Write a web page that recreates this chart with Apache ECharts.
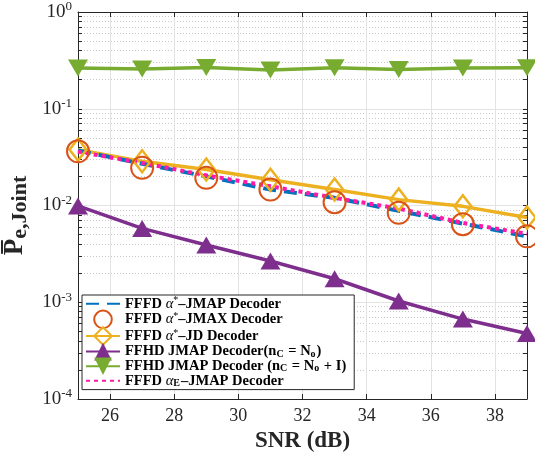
<!DOCTYPE html>
<html>
<head>
<meta charset="utf-8">
<script src="https://cdn.jsdelivr.net/npm/echarts@6/dist/echarts.min.js"></script>
<style>
  html, body { margin: 0; padding: 0; background: #fff; }
  #chart { width: 535px; height: 452px; }
</style>
</head>
<body>
<div id="chart"></div>
<script>
// SNR points (dB)
var snr = [25, 27, 29, 31, 33, 35, 37, 39];
var xTicks = [26, 28, 30, 32, 34, 36, 38];
var yMajor = [1e-4, 1e-3, 1e-2, 1e-1, 1];

// error probabilities
var fffdJmap   = [0.037, 0.027, 0.0200, 0.0146, 0.0120, 0.0088, 0.0065, 0.0048];
var fffdJmax   = [0.0363, 0.0245, 0.0193, 0.0146, 0.0108, 0.0084, 0.0064, 0.0048];
var fffdJd     = [0.0378, 0.0286, 0.0235, 0.0185, 0.0146, 0.0115, 0.0098, 0.0075];
var ffhdNo     = [0.0099, 0.0058, 0.0039, 0.00267, 0.00175, 0.00103, 0.00067, 0.000475];
var ffhdNoI    = [0.263, 0.257, 0.267, 0.252, 0.265, 0.255, 0.263, 0.265];
var fffdAlphaE = [0.036, 0.0275, 0.0205, 0.0158, 0.0120, 0.0093, 0.0066, 0.0051];

var names = [
  '{b|FFFD }{i|α}{sup|*}{b|–JMAP Decoder}',
  '{b|FFFD }{i|α}{sup|*}{b|–JMAX Decoder}',
  '{b|FFFD }{i|α}{sup|*}{b|–JD Decoder}',
  '{b|FFHD JMAP Decoder(n}{sub|C}{b| = N}{sub|o}{b|)}',
  '{b|FFHD JMAP Decoder (n}{sub|C}{b| = N}{sub|o}{b| + I)}',
  '{b|FFFD }{i|α}{sub|E}{b|–JMAP Decoder}'
];

// all log ticks (1..9 x 10^k) for the minor grid / ticks
var yAll = [];
yMajor.forEach(function (d, k) {
  yAll.push(d);
  if (k < yMajor.length - 1) {
    for (var m = 2; m <= 9; m++) yAll.push(m * d);
  }
});

function pairs(ys) {
  return snr.map(function (x, i) { return [x, ys[i]]; });
}

var serif = 'Liberation Serif';
var ink = '#262626';
var myChart = echarts.init(document.getElementById('chart'));

var option = {
  animation: false,
  grid: { left: 78, right: 8, top: 12, bottom: 53, outerBoundsMode: 'none' },
  xAxis: [{
    type: 'value', min: 25, max: 39,
    name: 'SNR (dB)', nameLocation: 'middle', nameGap: 27,
    nameTextStyle: { fontFamily: serif, fontWeight: 'bold', fontSize: 23, color: ink },
    axisLine: { lineStyle: { color: ink, width: 1 } },
    axisTick: { inside: true, length: 5, customValues: xTicks, lineStyle: { color: ink } },
    axisLabel: { customValues: xTicks, fontFamily: serif, fontSize: 18, color: ink, margin: 8 },
    splitLine: { show: true, lineStyle: { color: '#e3e3e3', width: 1 } }
  }, {
    type: 'value', min: 25, max: 39, position: 'top',
    axisLine: { lineStyle: { color: ink, width: 1 } },
    axisTick: { inside: true, length: 5, customValues: xTicks, lineStyle: { color: ink } },
    axisLabel: { show: false },
    splitLine: { show: false }
  }],
  yAxis: [{
    type: 'log', logBase: 10, min: 1e-4, max: 1,
    name: '{p|P̅}{s|e,Joint}', nameLocation: 'middle', nameGap: 41, nameRotate: 90,
    nameTextStyle: {
      rich: {
        p: { fontFamily: serif, fontWeight: 'bold', fontSize: 27, color: ink },
        s: { fontFamily: serif, fontWeight: 'bold', fontSize: 22, color: ink, verticalAlign: 'bottom', padding: [10, 20, 0, 0] }
      }
    },
    axisLine: { lineStyle: { color: ink, width: 1 } },
    axisTick: { inside: true, length: 4, customValues: yAll, lineStyle: { color: ink } },
    axisLabel: {
      margin: 6,
      customValues: yMajor,
      formatter: function (v) {
        return '{b|10}{sup|' + Math.round(Math.log10(v)) + '}';
      },
      rich: {
        b: { fontFamily: serif, fontSize: 19, color: ink },
        sup: { fontFamily: serif, fontSize: 13, color: ink, verticalAlign: 'top', padding: [0, 0, 10, 0] }
      }
    },
    splitLine: { show: false }
  }, {
    type: 'log', logBase: 10, min: 1e-4, max: 1, position: 'right',
    axisLine: { lineStyle: { color: ink, width: 1 } },
    axisTick: { inside: true, length: 4, customValues: yAll, lineStyle: { color: ink } },
    axisLabel: { show: false },
    splitLine: { show: true, lineStyle: { color: '#c8c8c8', type: [1, 2], width: 1 } }
  }, {
    type: 'log', logBase: 10, min: 1e-4, max: 1, position: 'left',
    axisLine: { show: false }, axisTick: { show: false }, axisLabel: { show: false },
    splitLine: { show: true, lineStyle: { color: '#e3e3e3', width: 1 } }
  }],
  legend: {
    orient: 'vertical', left: 82, top: 295,
    backgroundColor: '#fff', borderColor: ink, borderWidth: 1, borderRadius: 0,
    padding: [0, 8, 0, 3], itemGap: -3, itemWidth: 34, itemHeight: 22,
    data: [
      { name: names[0], itemStyle: { opacity: 0 } },
      names[1], names[2], names[3], names[4],
      { name: names[5], itemStyle: { opacity: 0 } }
    ],
    textStyle: {
      rich: {
        b: { fontFamily: serif, fontWeight: 'bold', fontSize: 14.5, color: '#000' },
        i: { fontFamily: serif, fontStyle: 'italic', fontSize: 14.5, color: '#000' },
        sup: { fontFamily: serif, fontSize: 10, color: '#000', verticalAlign: 'top', padding: [0, 0, 6, 0] },
        sub: { fontFamily: serif, fontWeight: 'bold', fontSize: 10, color: '#000', verticalAlign: 'bottom', padding: [5, 1, 0, 0] }
      }
    }
  },
  series: [{
    name: names[3], type: 'line', data: pairs(ffhdNo), color: '#7E2F8E',
    symbol: 'triangle', symbolSize: [20, 17], showAllSymbol: true,
    lineStyle: { width: 3.5, color: '#7E2F8E' }, itemStyle: { color: '#7E2F8E' }
  }, {
    name: names[4], type: 'line', data: pairs(ffhdNoI), color: '#77AC30',
    symbol: 'triangle', symbolRotate: 180, symbolSize: [20, 17], showAllSymbol: true,
    lineStyle: { width: 3.5, color: '#77AC30' }, itemStyle: { color: '#77AC30' }
  }, {
    name: names[2], type: 'line', data: pairs(fffdJd), color: '#EDB120',
    symbol: 'diamond', symbolSize: [17, 22], showAllSymbol: true,
    lineStyle: { width: 3.5, color: '#EDB120' },
    itemStyle: { color: 'rgba(255,255,255,0)', borderColor: '#EDB120', borderWidth: 2.5 }
  }, {
    name: names[0], type: 'line', data: pairs(fffdJmap), color: '#0072BD',
    symbol: 'none', lineStyle: { width: 4, type: [13, 8], color: '#0072BD' }
  }, {
    name: names[5], type: 'line', data: pairs(fffdAlphaE), color: '#FF1AA8',
    symbol: 'none', lineStyle: { width: 4, type: [4, 4], color: '#FF1AA8' }
  }, {
    name: names[1], type: 'line', data: pairs(fffdJmax), color: '#D95319',
    symbol: 'circle', symbolSize: 22, showAllSymbol: true,
    lineStyle: { width: 0, opacity: 0 },
    itemStyle: { color: 'rgba(255,255,255,0)', borderColor: '#D95319', borderWidth: 2 }
  }]
};

myChart.setOption(option);
</script>
</body>
</html>
